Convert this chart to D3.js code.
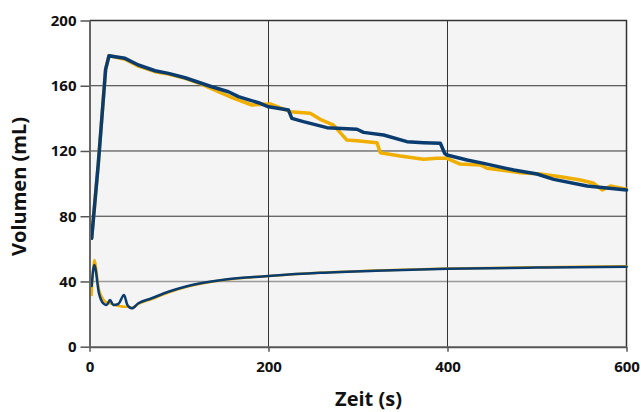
<!DOCTYPE html>
<html>
<head>
<meta charset="utf-8">
<script src="https://cdn.jsdelivr.net/npm/d3@7"></script>
<style>
  body { margin: 0; background: #fff; }
  svg text { font-family: "Open Sans", "DejaVu Sans", sans-serif; font-weight: bold; fill: #111; }
</style>
</head>
<body>
<div id="chart"></div>
<script>
// upper curve (x in s, y in mL)
const upperBlueX = [2.4, 9.8, 18, 21.8, 28.5, 39.7, 54.6, 73.2, 88.1, 106.8, 136.6, 155.2, 166.4, 188.8, 200, 222.3, 226.1, 239, 265.3, 298.8, 306.2, 328.6, 354.7, 373.3, 392, 396.8, 399.4, 421.8, 440.4, 474, 500, 518.7, 556, 600];
const upperBlueY = [66.5, 112, 170, 178.4, 177.8, 176.8, 172.7, 169.2, 167.6, 164.9, 159.4, 156.3, 153.3, 149.6, 147.1, 145.1, 140.0, 138, 134.3, 133.3, 131.4, 129.8, 125.7, 125.1, 124.7, 118.6, 117.5, 114.5, 112.4, 108.3, 105.9, 102.6, 98.5, 96.1];

const upperYellowX = [2.4, 9.8, 18, 21.8, 28.5, 39.7, 54.6, 73.2, 88.1, 106.8, 125, 144, 160, 181.4, 201.8, 224.2, 246.6, 257.8, 272.7, 287.6, 298.8, 321.2, 324.9, 347.2, 373.3, 388.2, 399.4, 414.3, 436.7, 444.2, 481.4, 503.8, 526.2, 548.5, 563.4, 572.8, 582.1, 600];
const upperYellowY = [66.5, 112, 170, 178.4, 177.6, 176.2, 172, 168.6, 167.2, 164.5, 161, 156.3, 152.5, 148.2, 148.8, 144.1, 143.1, 139.4, 135.9, 126.7, 126.3, 125.1, 118.9, 116.9, 114.9, 115.5, 115.5, 112, 111.4, 109.4, 106.7, 105.9, 104.2, 102.2, 100.2, 96.1, 98.5, 96.5];

// lower curve
const lowerBlueX = [2.4, 5.4, 10.6, 15.4, 19.2, 22.9, 26.6, 32.2, 38.6, 42.3, 47.2, 54.6, 69.5, 88.1, 106.8, 127.2, 150, 175, 200, 257.7, 320, 400, 500, 600];
const lowerBlueY = [37.2, 50.1, 32.7, 26.6, 25.6, 28.6, 25.6, 26.2, 31.7, 25.6, 23.5, 26.6, 29.7, 33.7, 36.8, 39.2, 41.1, 42.4, 43.4, 45.3, 46.6, 47.8, 48.5, 49.0];

const lowerYellowX = [2.4, 5.4, 10.6, 15.4, 19.2, 24, 28, 33, 38.6, 43, 47.2, 54.6, 69.5, 88.1, 106.8, 127.2, 150, 175, 200, 257.7, 320, 400, 500, 600];
const lowerYellowY = [31.7, 53.2, 35, 29, 27, 26.5, 25.5, 25, 24.5, 24.5, 23.8, 26.2, 29.2, 33.2, 36.4, 38.9, 40.9, 42.3, 43.3, 45.3, 46.7, 47.9, 48.7, 49.3];

const xTicks = [0, 200, 400, 600];
const yTicks = [0, 40, 80, 120, 160, 200];

const W = 641, H = 412;
const margin = { left: 89.5, right: 14.5, top: 20.5, bottom: 65.3 };

const svg = d3.select("#chart").append("svg")
  .attr("width", W)
  .attr("height", H);

const x = d3.scaleLinear().domain([0, 600]).range([margin.left, W - margin.right]);
const y = d3.scaleLinear().domain([0, 200]).range([H - margin.bottom, margin.top]);

// plot background
svg.append("rect")
  .attr("x", x(0)).attr("y", y(200))
  .attr("width", x(600) - x(0)).attr("height", y(0) - y(200))
  .attr("fill", "#f4f4f4");

// grid
svg.append("g").selectAll("line").data(yTicks.filter(d => d > 0 && d < 200)).enter().append("line")
  .attr("x1", x(0)).attr("x2", x(600))
  .attr("y1", d => y(d)).attr("y2", d => y(d))
  .attr("stroke", d => d === 40 ? "#999" : "#333")
  .attr("stroke-width", d => d === 40 ? 1.5 : 1);

svg.append("g").selectAll("line").data(xTicks.filter(d => d > 0 && d < 600)).enter().append("line")
  .attr("y1", y(0)).attr("y2", y(200))
  .attr("x1", d => x(d)).attr("x2", d => x(d))
  .attr("stroke", "#333")
  .attr("stroke-width", 1);

// frame top/right
svg.append("path")
  .attr("d", `M${x(0)},${y(200)}H${x(600)}V${y(0)}`)
  .attr("fill", "none")
  .attr("stroke", "#333")
  .attr("stroke-width", 1.5);

// series
function zip(xs, ys) { return xs.map((v, i) => [v, ys[i]]); }
const line = d3.line().x(d => x(d[0])).y(d => y(d[1]));
const smooth = d3.line().x(d => x(d[0])).y(d => y(d[1])).curve(d3.curveMonotoneX);

const series = [
  { pts: zip(upperYellowX, upperYellowY), color: "#f0ae00", w: 3.5, gen: line },
  { pts: zip(lowerYellowX, lowerYellowY), color: "#f0ae00", w: 2.5, gen: smooth },
  { pts: zip(upperBlueX, upperBlueY), color: "#0b3c6f", w: 3.5, gen: line },
  { pts: zip(lowerBlueX, lowerBlueY), color: "#0b3c6f", w: 2.5, gen: smooth }
];

svg.append("g").selectAll("path").data(series).enter().append("path")
  .attr("d", d => d.gen(d.pts))
  .attr("fill", "none")
  .attr("stroke", d => d.color)
  .attr("stroke-width", d => d.w)
  .attr("stroke-linejoin", "round")
  .attr("stroke-linecap", "round");

// axes
const xAxis = svg.append("g")
  .attr("transform", `translate(0,${y(0)})`)
  .call(d3.axisBottom(x).tickValues(xTicks).tickSize(5).tickSizeOuter(0).tickPadding(10));
xAxis.select(".domain").attr("stroke", "#555").attr("stroke-width", 2);
xAxis.selectAll(".tick line").attr("stroke", "#555").attr("stroke-width", 1.5);
xAxis.selectAll(".tick text").style("font-size", "15px").attr("fill", "#111");

const yAxis = svg.append("g")
  .attr("transform", `translate(${x(0)},0)`)
  .call(d3.axisLeft(y).tickValues(yTicks).tickSize(9).tickSizeOuter(0).tickPadding(4));
yAxis.select(".domain").attr("stroke", "#666").attr("stroke-width", 2);
yAxis.selectAll(".tick line").attr("stroke", "#555").attr("stroke-width", 1.5);
yAxis.selectAll(".tick text").style("font-size", "15px").attr("fill", "#111");

// titles
svg.append("text")
  .attr("x", 368.5).attr("y", 406)
  .attr("text-anchor", "middle")
  .style("font-size", "20px")
  .text("Zeit (s)");

svg.append("text")
  .attr("transform", "translate(26,186.5) rotate(-90)")
  .attr("text-anchor", "middle")
  .style("font-size", "20px")
  .text("Volumen (mL)");
</script>
</body>
</html>
